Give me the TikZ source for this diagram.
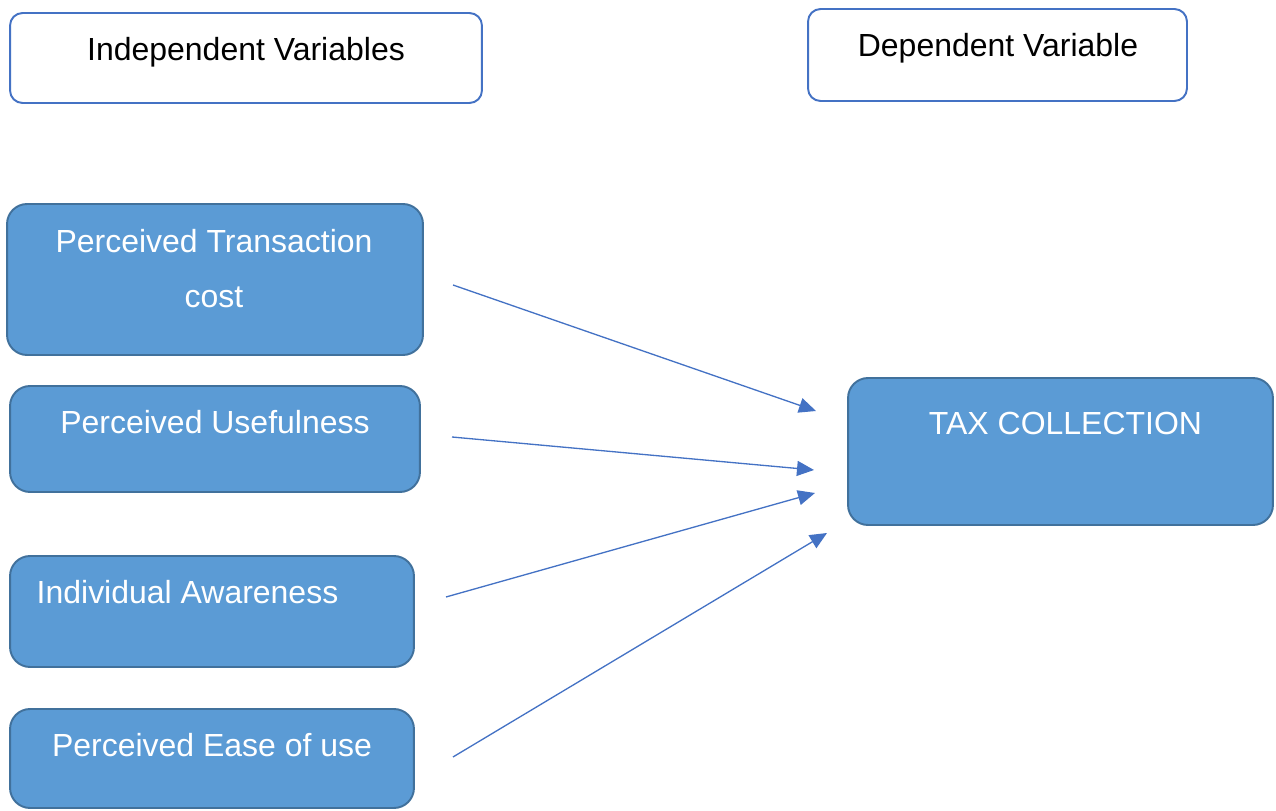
\documentclass[tikz,border=0pt]{standalone}
\usepackage{fontspec}
\setmainfont{Liberation Sans}
\usetikzlibrary{arrows.meta}

\definecolor{boxfill}{HTML}{5B9BD5}
\definecolor{boxedge}{HTML}{41719C}
\definecolor{headedge}{HTML}{4472C4}

\begin{document}
\begin{tikzpicture}[x=0.02cm, y=-0.02cm,
  headbox/.style={draw=headedge, line width=1.1pt, rounded corners=0.25cm, fill=white},
  varbox/.style={draw=boxedge, line width=1.1pt, rounded corners=0.4cm, fill=boxfill},
  lbl/.style={font=\fontsize{18.2}{31.3}\selectfont, anchor=base, inner sep=0pt, align=center},
  link/.style={draw=headedge, line width=0.75pt, -{Triangle[length=0.34cm, width=0.3cm]}}]

  % === FRAME ===
  \useasboundingbox (0,0) rectangle (1276,811);

  % =============================================
  % HEADINGS
  % =============================================
  \node[headbox, minimum width=9.44cm, minimum height=1.8cm] (indepbox) at (246,58) {};
  \node[lbl] (indep) at (246,61) {Independent Variables};
  \node[headbox, minimum width=7.58cm, minimum height=1.84cm] (depbox) at (997.5,55) {};
  \node[lbl] (dep) at (998,57) {Dependent Variable};

  % =============================================
  % INDEPENDENT VARIABLES (left column)
  % =============================================
  % base anchor of a two-line node = baseline of last line
  \node[varbox, minimum width=8.32cm, minimum height=3.02cm] (ptcbox) at (215,279.5) {};
  \node[lbl, white] (ptc) at (214,307) {Perceived Transaction\\cost};
  \node[varbox, minimum width=8.2cm, minimum height=2.12cm] (pubox) at (215,439) {};
  \node[lbl, white] (pu) at (215,433.5) {Perceived Usefulness};
  \node[varbox, minimum width=8.08cm, minimum height=2.22cm] (iabox) at (212,611.5) {};
  \node[lbl, white] (ia) at (187.5,603.5) {Individual Awareness};
  \node[varbox, minimum width=8.08cm, minimum height=1.98cm] (peubox) at (212,758.5) {};
  \node[lbl, white] (peu) at (212,756) {Perceived Ease of use};

  % =============================================
  % DEPENDENT VARIABLE (right)
  % =============================================
  \node[varbox, minimum width=8.5cm, minimum height=2.94cm] (taxbox) at (1060.5,451.5) {};
  \node[lbl, white] (tax) at (1065.5,434.5) {TAX COLLECTION};

  % =============================================
  % ARROWS (free ends, as in the source)
  % =============================================
  \coordinate (ptcout) at (453,285);
  \coordinate (puout)  at (452,437);
  \coordinate (iaout)  at (446,597);
  \coordinate (peuout) at (453,757);
  \coordinate (taxin1) at (816,411);
  \coordinate (taxin2) at (814,470);
  \coordinate (taxin3) at (815,493);
  \coordinate (taxin4) at (827,533);

  \draw[link] (ptcout) -- (taxin1);
  \draw[link] (puout)  -- (taxin2);
  \draw[link] (iaout)  -- (taxin3);
  \draw[link] (peuout) -- (taxin4);

\end{tikzpicture}
\end{document}
